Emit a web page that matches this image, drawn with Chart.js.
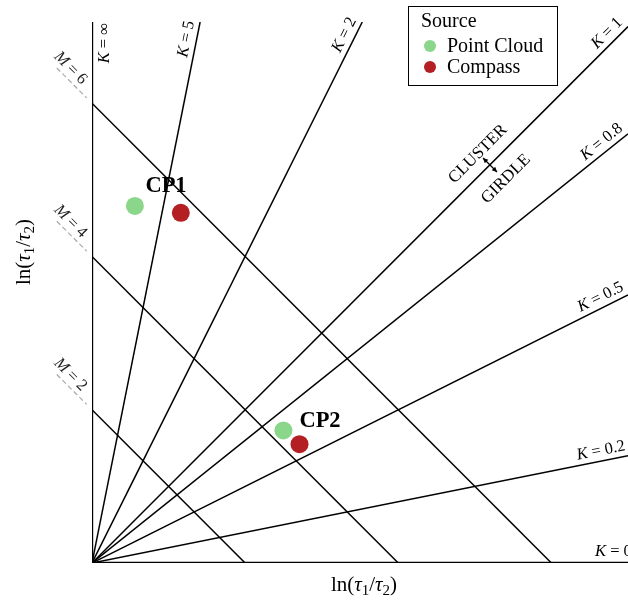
<!DOCTYPE html>
<html>
<head>
<meta charset="utf-8">
<script src="https://cdn.jsdelivr.net/npm/chart.js@4.4.1/dist/chart.umd.min.js"></script>
<style>
  html, body { margin: 0; padding: 0; background: #fff; }
  #wrap { width: 628px; height: 602px; position: relative; }
</style>
</head>
<body>
<div id="wrap"><canvas id="woodcock"></canvas></div>
<script>
// Limites do diagrama
const xMax = 7;
const yMax = 7.06;

// Linhas K (razão) e M (intensidade)
const kValues = [5, 2, 1, 0.8, 0.5, 0.2];
const kNames = ['5', '2', '1', '0.8', '0.5', '0.2'];
const mValues = [2, 4, 6];
const mNames = ['2', '4', '6'];

// Pontos medidos
const pairNames = ['CP1', 'CP2'];
const cloudX = [0.56, 2.50];
const cloudY = [4.66, 1.73];
const compassX = [1.16, 2.71];
const compassY = [4.57, 1.55];

const serif = '"Liberation Serif", "DejaVu Serif", serif';
const green = '#8ad68a';
const red = '#b31f22';

function kEnd(k) {
    const x = Math.min(xMax, yMax / k);
    return {x: x, y: k * x};
}

const datasets = [];

datasets.push({
    label: 'Point Cloud',
    data: cloudX.map((x, i) => ({x: x, y: cloudY[i]})),
    backgroundColor: green,
    borderWidth: 0,
    pointRadius: 9,
    order: 0
});
datasets.push({
    label: 'Compass',
    data: compassX.map((x, i) => ({x: x, y: compassY[i]})),
    backgroundColor: red,
    borderWidth: 0,
    pointRadius: 9,
    order: 0
});

// Eixos (K = ∞ e K = 0)
datasets.push({
    label: 'axes',
    data: [{x: 0, y: yMax}, {x: 0, y: 0}, {x: xMax, y: 0}],
    showLine: true,
    borderColor: '#000',
    borderWidth: 2.4,
    pointRadius: 0,
    order: 2
});

kValues.forEach(k => {
    datasets.push({
        label: 'K=' + k,
        data: [{x: 0, y: 0}, kEnd(k)],
        showLine: true,
        borderColor: '#000',
        borderWidth: 1.5,
        pointRadius: 0,
        order: 2
    });
});

mValues.forEach(m => {
    datasets.push({
        label: 'M=' + m,
        data: [{x: 0, y: m}, {x: m, y: 0}],
        showLine: true,
        borderColor: '#000',
        borderWidth: 1.5,
        pointRadius: 0,
        order: 2
    });
    datasets.push({
        label: 'M ext ' + m,
        data: [{x: -0.46, y: m + 0.46}, {x: -0.07, y: m + 0.07}],
        showLine: true,
        borderColor: '#aaa',
        borderWidth: 1.2,
        borderDash: [5, 3],
        pointRadius: 0,
        clip: false,
        order: 2
    });
});

// Desenha texto em partes (itálico, subscrito) com rotação
function drawParts(ctx, parts, x, y, angle, align, baseline) {
    ctx.save();
    ctx.translate(x, y);
    ctx.rotate(angle);
    ctx.textBaseline = baseline;
    ctx.textAlign = 'left';
    let total = 0;
    parts.forEach(p => { ctx.font = p.font; total += ctx.measureText(p.text).width; });
    let cx = align === 'right' ? -total : align === 'center' ? -total / 2 : 0;
    parts.forEach(p => {
        ctx.font = p.font;
        ctx.fillText(p.text, cx, p.dy || 0);
        cx += ctx.measureText(p.text).width;
    });
    ctx.restore();
}

function labelParts(sym, val, size) {
    return [
        {text: sym, font: 'italic ' + size + 'px ' + serif},
        {text: ' = ' + val, font: size + 'px ' + serif}
    ];
}

const annotations = {
    id: 'annotations',
    afterDatasetsDraw(chart) {
        const ctx = chart.ctx;
        const xs = chart.scales.x;
        const ys = chart.scales.y;
        const px = v => xs.getPixelForValue(v);
        const py = v => ys.getPixelForValue(v);
        const ox = px(0), oy = py(0);
        ctx.save();
        ctx.fillStyle = '#000';
        ctx.strokeStyle = '#000';

        // Rótulos K
        drawParts(ctx, labelParts('K', '∞', 16.5), ox + 4, py(yMax) + 1, -Math.PI / 2, 'right', 'top');
        kValues.forEach((k, i) => {
            const e = kEnd(k);
            const ex = px(e.x), ey = py(e.y);
            const a = Math.atan2(ey - oy, ex - ox);
            const back = 1;
            const ax = ex - Math.cos(a) * back + Math.sin(a) * 2;
            const ay = ey - Math.sin(a) * back - Math.cos(a) * 2;
            drawParts(ctx, labelParts('K', kNames[i], 16.5), ax, ay, a, 'right', 'bottom');
        });
        drawParts(ctx, labelParts('K', '0', 16.5), 595, oy - 3, 0, 'left', 'bottom');

        // Rótulos M
        ctx.fillStyle = '#222';
        mValues.forEach((m, i) => {
            const ax = px(-0.37), ay = py(m + 0.37);
            drawParts(ctx, labelParts('M', mNames[i], 16.5), ax + 1, ay - 1, Math.PI / 4, 'center', 'bottom');
        });
        ctx.fillStyle = '#000';

        // CLUSTER / GIRDLE
        drawParts(ctx, [{text: 'CLUSTER', font: '17px ' + serif}], 478, 154, -Math.PI / 4, 'center', 'middle');
        drawParts(ctx, [{text: 'GIRDLE', font: '17px ' + serif}], 506, 179, -Math.PI / 4, 'center', 'middle');
        const ax1 = 483, ay1 = 158, ax2 = 497, ay2 = 172;
        ctx.lineWidth = 1.2;
        ctx.beginPath();
        ctx.moveTo(ax1, ay1);
        ctx.lineTo(ax2, ay2);
        ctx.stroke();
        [[ax1, ay1, 1], [ax2, ay2, -1]].forEach(([hx, hy, s]) => {
            const d = Math.SQRT1_2;
            ctx.beginPath();
            ctx.moveTo(hx, hy);
            ctx.lineTo(hx + s * 5 * d + s * 2.5 * d, hy + s * 5 * d - s * 2.5 * d);
            ctx.lineTo(hx + s * 5 * d - s * 2.5 * d, hy + s * 5 * d + s * 2.5 * d);
            ctx.closePath();
            ctx.fill();
        });

        // Rótulos dos pontos
        ctx.font = 'bold 22.5px ' + serif;
        ctx.textAlign = 'center';
        ctx.textBaseline = 'alphabetic';
        ctx.fillText(pairNames[0], 166, 192);
        ctx.fillText(pairNames[1], 320, 427);

        // Títulos dos eixos
        const big = '21px ' + serif, it = 'italic 21px ' + serif, sub = '15px ' + serif;
        const titleParts = [
            {text: 'ln(', font: big},
            {text: 'τ', font: it},
            {text: '1', font: sub, dy: 4},
            {text: '/', font: big},
            {text: 'τ', font: it},
            {text: '2', font: sub, dy: 4},
            {text: ')', font: big}
        ];
        drawParts(ctx, titleParts, 364, 591, 0, 'center', 'alphabetic');
        drawParts(ctx, titleParts, 30, 252, -Math.PI / 2, 'center', 'alphabetic');

        // Legenda
        ctx.lineWidth = 1;
        ctx.strokeRect(408.5, 6.5, 149, 79);
        ctx.textAlign = 'left';
        ctx.font = '20px ' + serif;
        ctx.fillText('Source', 421, 27);
        [[green, 'Point Cloud', 46], [red, 'Compass', 67]].forEach(([c, t, yy]) => {
            ctx.fillStyle = c;
            ctx.beginPath();
            ctx.arc(430, yy, 6, 0, Math.PI * 2);
            ctx.fill();
            ctx.fillStyle = '#000';
            ctx.fillText(t, 447, yy + 6);
        });
        ctx.restore();
    }
};

new Chart(document.getElementById('woodcock'), {
    type: 'scatter',
    data: {datasets: datasets},
    options: {
        responsive: true,
        maintainAspectRatio: false,
        animation: false,
        layout: {
            autoPadding: false,
            padding: {left: 92, right: 0, top: 22, bottom: 39}
        },
        plugins: {
            legend: {display: false},
            tooltip: {enabled: false}
        },
        scales: {
            x: {type: 'linear', min: 0, max: xMax, display: false},
            y: {type: 'linear', min: 0, max: yMax, display: false}
        }
    },
    plugins: [annotations]
});
</script>
</body>
</html>
